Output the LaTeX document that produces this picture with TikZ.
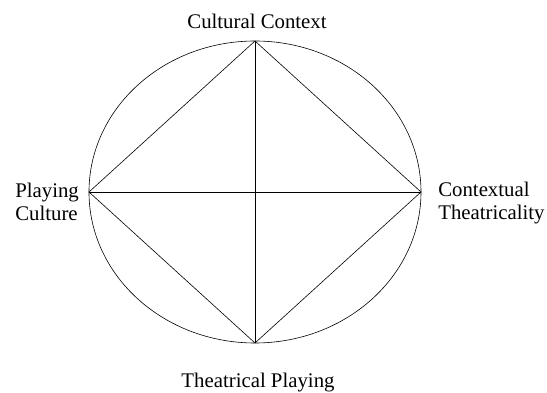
\documentclass[tikz,border=0pt]{standalone}
\usepackage{fontspec}
\setmainfont{Liberation Serif}
\usetikzlibrary{positioning}
\tikzset{lbl/.style={font=\fontsize{20.8}{23}\selectfont,inner sep=0pt}}

\begin{document}
\begin{tikzpicture}[x=1pt,y=1pt,line width=.6pt]
\useasboundingbox (-255,-201) rectangle (292,192);
% outer circle
\draw (0,0) ellipse [x radius=166,y radius=151];
\coordinate (top) at (0,151);
\coordinate (bot) at (0,-151);
\coordinate (lft) at (-166,0);
\coordinate (rgt) at (166,0);
% diamond and cross
\draw (lft)--(top)--(rgt)--(bot)--cycle;
\draw (top)--(bot);
\draw (lft)--(rgt);
% labels
\node[lbl,anchor=base] (cult) at (2,163){Cultural Context};
\node[lbl,anchor=base] (theat) at (3,-196){Theatrical Playing};
\node[lbl,anchor=west,align=left] (play) at (-240,-9.4){Playing\\Culture};
\node[lbl,anchor=west,align=left] (ctx) at (183,-11.4){Contextual\\Theatricality};
\end{tikzpicture}
\end{document}
